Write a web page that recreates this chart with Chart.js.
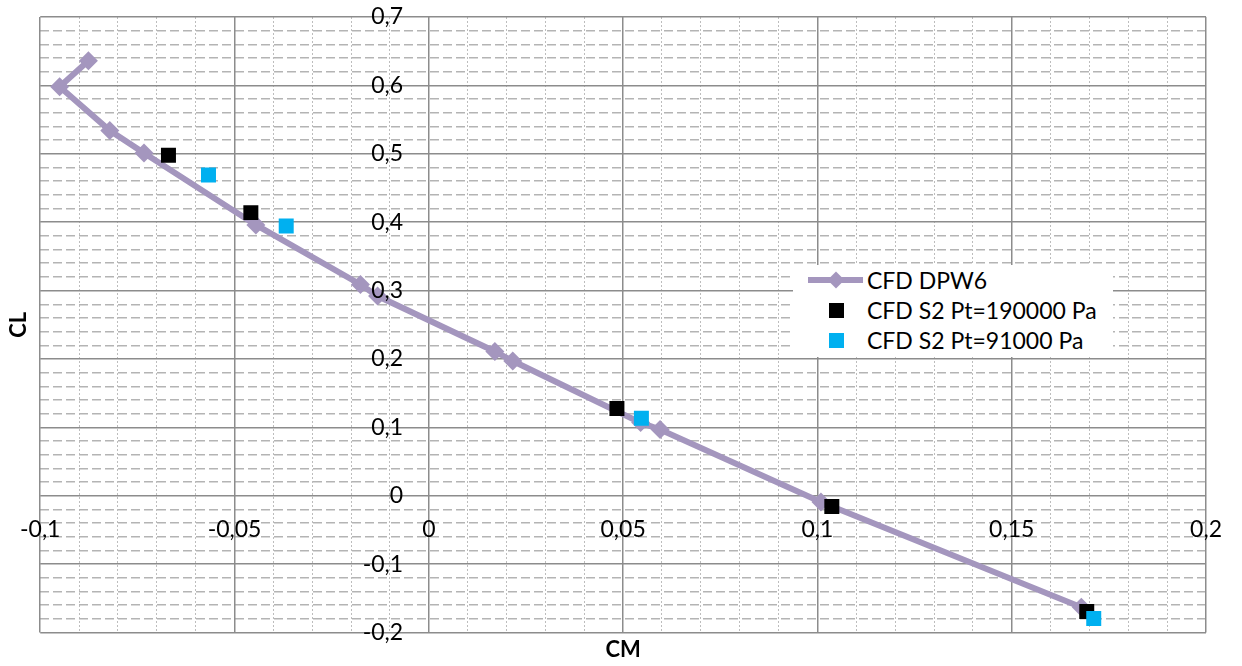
<!DOCTYPE html>
<html>
<head>
<meta charset="utf-8">
<script src="https://cdn.jsdelivr.net/npm/chart.js@4.4.1/dist/chart.umd.min.js"></script>
<style>
  html, body { margin: 0; padding: 0; background: #fff; }
  #marco { position: relative; width: 1242px; height: 666px; }
  #leyenda {
    position: absolute; left: 793px; top: 265px; width: 320px; height: 92px;
    background: #fff; font-family: Lato, sans-serif; font-size: 23px; color: #000;
  }
  .fila { position: relative; height: 30px; line-height: 30px; }
  .fila span { position: absolute; left: 74px; top: 0; white-space: nowrap; }
  .linea { position: absolute; left: 15px; top: 12px; width: 55px; height: 6px; }
  .rombo { position: absolute; left: 37px; top: 9px; width: 12px; height: 12px; transform: rotate(45deg); }
  .cuadro { position: absolute; left: 36px; top: 8px; width: 15px; height: 15px; }
</style>
</head>
<body>
<div id="marco">
  <canvas id="grafico" width="1242" height="666"></canvas>
  <div id="leyenda"></div>
</div>
<script>
// series
var nombres = ['CFD DPW6', 'CFD S2 Pt=190000 Pa', 'CFD S2 Pt=91000 Pa'];
var colores = ['#A496BE', '#000000', '#00B0F0'];

var cmDPW6 = [-0.0876, -0.0950, -0.0821, -0.0733, -0.0445, -0.0176, -0.0132, 0.0170, 0.0216, 0.0545, 0.0595, 0.1009, 0.1679];
var clDPW6 = [0.636, 0.598, 0.534, 0.501, 0.396, 0.309, 0.292, 0.211, 0.197, 0.107, 0.097, -0.009, -0.163];

var cm190 = [-0.0670, -0.0458, 0.0484, 0.1037, 0.1693];
var cl190 = [0.498, 0.414, 0.1275, -0.0158, -0.169];

var cm91 = [-0.0567, -0.0367, 0.0547, 0.1711];
var cl91 = [0.469, 0.3945, 0.1133, -0.1795];

// ejes
var xMin = -0.1, xMax = 0.2, xPaso = 0.05, xPasoMenor = 0.01;
var yMin = -0.2, yMax = 0.7, yPaso = 0.1, yPasoMenor = 0.02;

function puntos(xs, ys) {
  return xs.map(function (x, i) { return { x: x, y: ys[i] }; });
}

function coma(v) {
  return String(Math.round(v * 1000) / 1000).replace('.', ',');
}

function esMayor(v, paso) {
  var r = v / paso;
  return Math.abs(r - Math.round(r)) < 1e-6;
}

Chart.defaults.font.family = 'Lato';

var fuenteTicks = { family: 'Lato', size: 23 };
var fuenteTitulo = { family: 'Lato', size: 22, weight: 'bold' };

var ctx = document.getElementById('grafico').getContext('2d');
var chart = new Chart(ctx, {
  type: 'scatter',
  data: {
    datasets: [{
      label: nombres[0],
      data: puntos(cmDPW6, clDPW6),
      showLine: true,
      borderColor: colores[0],
      backgroundColor: colores[0],
      borderWidth: 6,
      pointStyle: 'rectRot',
      pointRadius: 9.5,
      pointBorderWidth: 0,
      tension: 0,
      order: 3
    }, {
      label: nombres[1],
      data: puntos(cm190, cl190),
      backgroundColor: colores[1],
      borderColor: colores[1],
      pointStyle: 'rect',
      pointRadius: 10.6,
      pointBorderWidth: 0,
      order: 2
    }, {
      label: nombres[2],
      data: puntos(cm91, cl91),
      backgroundColor: colores[2],
      borderColor: colores[2],
      pointStyle: 'rect',
      pointRadius: 10.6,
      pointBorderWidth: 0,
      order: 1
    }]
  },
  options: {
    responsive: false,
    animation: false,
    layout: { padding: { left: 0, right: 30, top: 17, bottom: 0 } },
    plugins: {
      legend: { display: false },
      tooltip: { enabled: false }
    },
    scales: {
      x: {
        type: 'linear', min: xMin, max: xMax,
        position: { y: 0 },
        grid: { color: '#8C8C8C', lineWidth: 1.5, drawTicks: false },
        border: { display: false },
        ticks: { stepSize: xPaso, font: fuenteTicks, color: '#000', padding: 20, z: 1,
                 callback: function (v) { return coma(v); } }
      },
      y: {
        type: 'linear', min: yMin, max: yMax,
        // las etiquetas quedan a la izquierda del eje CM=0
        position: { x: -0.0066 },
        grid: { color: '#8C8C8C', lineWidth: 1.5, drawTicks: false },
        border: { display: false },
        ticks: { stepSize: yPaso, font: fuenteTicks, color: '#000', padding: 0, z: 1,
                 callback: function (v) { return coma(v); } }
      },
      xMenor: {
        type: 'linear', min: xMin, max: xMax, position: 'bottom',
        grid: {
          drawTicks: false, lineWidth: 1, z: -2,
          color: function (c) { return esMayor(c.tick.value, xPaso) ? 'rgba(0,0,0,0)' : '#BDBDBD'; }
        },
        border: { display: false, dash: [2, 2] },
        ticks: { display: false, stepSize: xPasoMenor, maxTicksLimit: 100 },
        title: { display: true, text: 'CM', font: fuenteTitulo, color: '#000', padding: { top: 4, bottom: 3 } }
      },
      yMenor: {
        type: 'linear', min: yMin, max: yMax, position: 'left',
        grid: {
          drawTicks: false, lineWidth: 1.5, z: -2,
          color: function (c) { return esMayor(c.tick.value, yPaso) ? 'rgba(0,0,0,0)' : '#B4B4B4'; }
        },
        border: { display: false, dash: [9, 4] },
        ticks: { display: false, stepSize: yPasoMenor, maxTicksLimit: 100 },
        title: { display: true, text: 'CL', font: fuenteTitulo, color: '#000', padding: { top: 5, bottom: 8 } }
      }
    }
  }
});

// leyenda
var leyenda = document.getElementById('leyenda');
nombres.forEach(function (n, i) {
  var fila = document.createElement('div');
  fila.className = 'fila';
  if (i === 0) {
    fila.innerHTML = '<div class="linea" style="background:' + colores[i] + '"></div>' +
      '<div class="rombo" style="background:' + colores[i] + '"></div>';
  } else {
    fila.innerHTML = '<div class="cuadro" style="background:' + colores[i] + '"></div>';
  }
  var t = document.createElement('span');
  t.textContent = n;
  fila.appendChild(t);
  leyenda.appendChild(fila);
});
</script>
</body>
</html>
